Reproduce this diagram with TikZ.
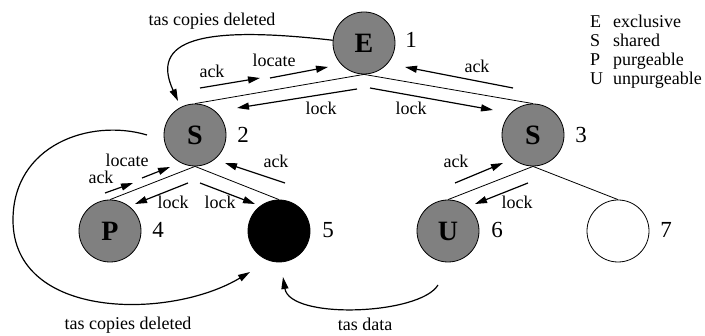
\documentclass[tikz,border=0pt]{standalone}
\usepackage{fontspec}
\setmainfont{Liberation Serif}
\usetikzlibrary{arrows.meta}
\begin{document}
\begin{tikzpicture}[x=1pt,y=-1pt,
  state/.style={circle,draw,line width=0.8pt,minimum size=62pt,inner sep=0pt,font=\fontsize{28}{28}\selectfont\bfseries},
  grayst/.style={state,fill=gray},
  num/.style={font=\fontsize{23}{23}\selectfont,anchor=base,inner sep=0pt},
  lbl/.style={font=\fontsize{18}{18}\selectfont,anchor=base,inner sep=0pt},
  leg/.style={font=\fontsize{18}{18}\selectfont,anchor=base west,inner sep=0pt},
  tree/.style={line width=0.8pt},
  msg/.style={line width=1.2pt,-{Triangle[length=12pt,width=7pt]}},
  curvearrow/.style={line width=1.2pt,-{Triangle[length=12pt,width=7pt]}},
]
\useasboundingbox (0,0) rectangle (705,336);

% states
\node[grayst] (E) at (364,43) {E};
\node[grayst] (S2) at (195,135) {S};
\node[grayst] (S3) at (533,135) {S};
\node[grayst] (P4) at (110,231) {P};
\node[state,fill=black] (N5) at (279,231) {};
\node[grayst] (U6) at (448,231) {U};
\node[state,fill=white] (N7) at (618,231) {};

% numbers
\node[num] (n1) at (411,48) {1};
\node[num] (n2) at (243,143) {2};
\node[num] (n3) at (581,143) {3};
\node[num] (n4) at (158,238) {4};
\node[num] (n5) at (328,238) {5};
\node[num] (n6) at (497,238) {6};
\node[num] (n7) at (666,238) {7};

% tree edges
\draw[tree] (E.south) -- (S2.north);
\draw[tree] (E.south) -- (S3.north);
\draw[tree] (S2.south) -- (P4.north);
\draw[tree] (S2.south) -- (N5.north);
\draw[tree] (S3.south) -- (U6.north);
\draw[tree] (S3.south) -- (N7.north);

% message arrow end points
\coordinate (a1s) at (200,88);  \coordinate (a1e) at (260,78);
\coordinate (a2s) at (270,78);  \coordinate (a2e) at (328,67);
\coordinate (a3s) at (357,89);  \coordinate (a3e) at (237,108);
\coordinate (a4s) at (370,88);  \coordinate (a4e) at (493,110);
\coordinate (a5s) at (513,88);  \coordinate (a5e) at (405,67);
\coordinate (a6s) at (105,193); \coordinate (a6e) at (133,183);
\coordinate (a7s) at (142,178); \coordinate (a7e) at (170,167);
\coordinate (a8s) at (188,183); \coordinate (a8e) at (135,204);
\coordinate (a9s) at (200,183); \coordinate (a9e) at (255,204);
\coordinate (a10s) at (285,183); \coordinate (a10e) at (225,163);
\coordinate (a11s) at (455,183); \coordinate (a11e) at (503,163);
\coordinate (a12s) at (528,183); \coordinate (a12e) at (475,204);

\draw[msg] (a1s) -- (a1e);
\draw[msg] (a2s) -- (a2e);
\draw[msg] (a3s) -- (a3e);
\draw[msg] (a4s) -- (a4e);
\draw[msg] (a5s) -- (a5e);
\draw[msg] (a6s) -- (a6e);
\draw[msg] (a7s) -- (a7e);
\draw[msg] (a8s) -- (a8e);
\draw[msg] (a9s) -- (a9e);
\draw[msg] (a10s) -- (a10e);
\draw[msg] (a11s) -- (a11e);
\draw[msg] (a12s) -- (a12e);

% message labels
\node[lbl] (l1) at (212,78) {ack};
\node[lbl] (l2) at (274,67) {locate};
\node[lbl] (l3) at (321,115) {lock};
\node[lbl] (l4) at (411,115) {lock};
\node[lbl] (l5) at (477,73) {ack};
\node[lbl] (l6) at (101,184) {ack};
\node[lbl] (l7) at (127,167) {locate};
\node[lbl] (l8) at (173,209) {lock};
\node[lbl] (l9) at (220,209) {lock};
\node[lbl] (l10) at (276,168) {ack};
\node[lbl] (l11) at (456,168) {ack};
\node[lbl] (l12) at (517,209) {lock};

% curved transfers
\coordinate (c1e) at (178,101);
\draw[curvearrow] (E.175) .. controls (200,25) and (150,40) .. (c1e);
\node[lbl] (t1) at (212,26) {tas copies deleted};

\coordinate (c2s) at (147,135);
\coordinate (c2m) at (13,220);
\coordinate (c2e) at (250,272);
\draw[curvearrow] (c2s) .. controls (90,118) and (13,145) .. (c2m)
  .. controls (13,320) and (170,320) .. (c2e);
\node[lbl] (t2) at (128,330) {tas copies deleted};

\coordinate (c3s) at (438,285);
\coordinate (c3e) at (283,277);
\draw[curvearrow] (c3s) .. controls (420,315) and (290,320) .. (c3e);
\node[lbl] (t3) at (365,331) {tas data};

% legend
\node[leg] (kE) at (590,28) {E};
\node[leg] (vE) at (613,28) {exclusive};
\node[leg] (kS) at (590,47) {S};
\node[leg] (vS) at (613,47) {shared};
\node[leg] (kP) at (590,66) {P};
\node[leg] (vP) at (613,66) {purgeable};
\node[leg] (kU) at (590,85) {U};
\node[leg] (vU) at (613,85) {unpurgeable};
\end{tikzpicture}
\end{document}
